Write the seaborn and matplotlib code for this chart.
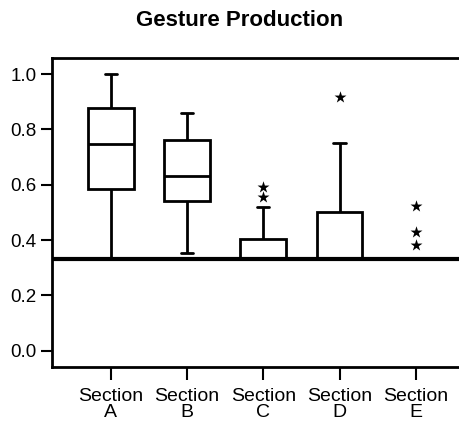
import numpy as np
import pandas as pd
import matplotlib
matplotlib.use("Agg")
import matplotlib.pyplot as plt
from matplotlib.ticker import FormatStrFormatter
import seaborn as sns

# Five-number summaries per section (lower ends below 0.33 are covered by the band)
sections = ["Section\nA", "Section\nB", "Section\nC", "Section\nD", "Section\nE"]
whisker_low = [0.20, 0.354, 0.00, 0.00, 0.00]
lower_quartile = [0.583, 0.542, 0.00, 0.05, 0.00]
median = [0.747, 0.631, 0.15, 0.20, 0.00]
upper_quartile = [0.876, 0.761, 0.404, 0.500, 0.10]
whisker_high = [1.000, 0.860, 0.518, 0.750, 0.25]

# Outlying observations, drawn as stars
outlier_section = ["Section\nC", "Section\nC", "Section\nD",
                   "Section\nE", "Section\nE", "Section\nE"]
outlier_value = [0.554, 0.593, 0.918, 0.382, 0.429, 0.524]

cut_level = 0.33

sns.set_style("ticks")
plt.rcParams["font.family"] = ["Liberation Sans", "DejaVu Sans"]

rows = []
for i, s in enumerate(sections):
    for v in (whisker_low[i], lower_quartile[i], median[i],
              upper_quartile[i], whisker_high[i]):
        rows.append({"section": s, "value": v})
df = pd.DataFrame(rows)
out_df = pd.DataFrame({"section": outlier_section, "value": outlier_value})

fig = plt.figure(figsize=(4.6, 4.24), dpi=100)
ax = fig.add_axes([52 / 460, 1 - 367 / 424, 1 - 52 / 460 + 0.01, (367 - 58) / 424])

sns.boxplot(data=df, x="section", y="value", order=sections, ax=ax,
            color="white", linecolor="black", linewidth=2, width=0.6,
            whis=(0, 100), showfliers=False, capwidths=0.16)
sns.stripplot(data=out_df, x="section", y="value", order=sections, ax=ax,
              jitter=False, marker="*", color="black", size=9, zorder=6)

# White band over the lower region with a heavy rule on top
ax.axhspan(-1, cut_level, facecolor="white", edgecolor="none", zorder=3)
ax.axhline(cut_level, color="black", linewidth=3, zorder=4)

ax.set_xlim(-0.77, 4.64)
ax.set_ylim(-0.059, 1.058)
ax.set_yticks([0.0, 0.2, 0.4, 0.6, 0.8, 1.0])
ax.yaxis.set_major_formatter(FormatStrFormatter("%.1f"))
ax.set_xlabel("")
ax.set_ylabel("")
ax.tick_params(axis="y", direction="out", length=8, width=1.5, pad=3,
               color="black", labelsize=13.5, labelcolor="black")
ax.tick_params(axis="x", direction="out", length=9, width=1.5, pad=6,
               color="black", labelsize=14, labelcolor="black")
for lab in ax.get_xticklabels():
    lab.set_linespacing(0.9)
for side, sp in ax.spines.items():
    sp.set_color("black")
    sp.set_linewidth(2)
    sp.set_zorder(5)
ax.spines["right"].set_visible(False)

fig.text(240 / 460, 1 - 21 / 424, "Gesture Production", ha="center",
         va="center", fontsize=16, fontweight="bold", color="black")

fig.savefig("out.png", dpi=100)
